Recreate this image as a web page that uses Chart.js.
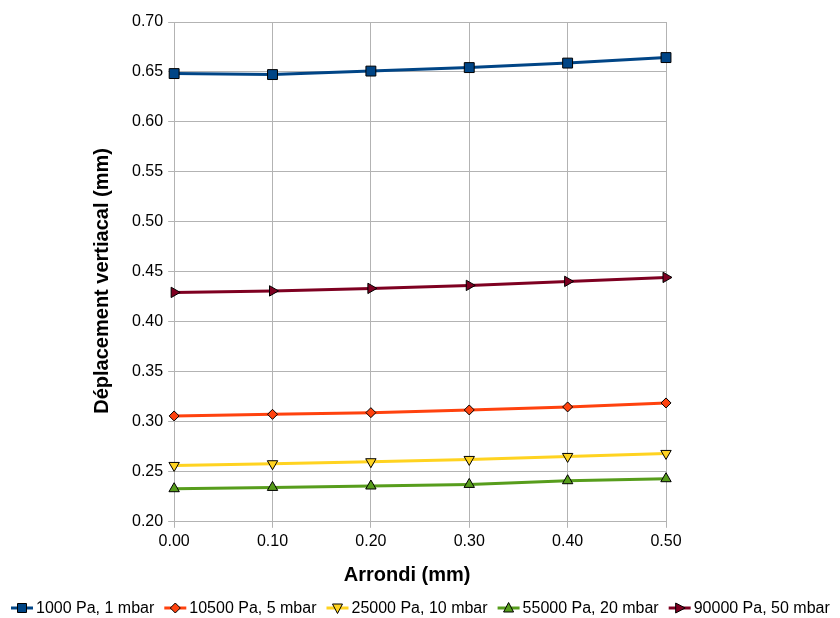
<!DOCTYPE html>
<html>
<head>
<meta charset="utf-8">
<script src="https://cdn.jsdelivr.net/npm/chart.js@4/dist/chart.umd.min.js"></script>
<style>
  body { margin: 0; background: #fff; }
  #wrap { width: 840px; height: 618px; }
</style>
</head>
<body>
<div id="wrap"><canvas id="chart"></canvas></div>
<script>
// data
const arrondi = [0.00, 0.10, 0.20, 0.30, 0.40, 0.50];
const seriesNames = ["1000 Pa, 1 mbar", "10500 Pa, 5 mbar", "25000 Pa, 10 mbar", "55000 Pa, 20 mbar", "90000 Pa, 50 mbar"];
const p1000  = [0.6484, 0.6474, 0.6509, 0.6544, 0.6589, 0.6644];
const p10500 = [0.3059, 0.3075, 0.3092, 0.3119, 0.3149, 0.3189];
const p25000 = [0.2564, 0.2581, 0.2601, 0.2624, 0.2654, 0.2684];
const p55000 = [0.2331, 0.2344, 0.2358, 0.2374, 0.2411, 0.2431];
const p90000 = [0.4295, 0.4310, 0.4335, 0.4365, 0.4405, 0.4445];
const yTicks = [0.20, 0.70, 0.05]; // min, max, step
const xTitle = "Arrondi (mm)";
const yTitle = "Déplacement vertiacal (mm)";

const colors = ["#004586", "#ff420e", "#ffd320", "#579d1c", "#7e0021"];
const styles = [
  { pointStyle: "rect", rot: 0, r: 7 },
  { pointStyle: "rectRot", rot: 0, r: 5 },
  { pointStyle: "triangle", rot: 180, r: 6 },
  { pointStyle: "triangle", rot: 0, r: 6 },
  { pointStyle: "triangle", rot: 90, r: 6 }
];
const allValues = [p1000, p10500, p25000, p55000, p90000];

const fontFamily = "'Liberation Sans', Arial, sans-serif";
const font = { family: fontFamily, size: 16 };
const gridColor = "#b3b3b3";

// legend marker: short line with the point on it
function drawIcon(g, i, x, y) {
  g.save();
  g.strokeStyle = colors[i];
  g.lineWidth = 3;
  g.beginPath(); g.moveTo(x, y); g.lineTo(x + 22, y); g.stroke();
  g.translate(x + 11, y);
  g.fillStyle = colors[i];
  g.strokeStyle = "#000";
  g.lineWidth = 1;
  const s = styles[i];
  g.beginPath();
  if (s.pointStyle === "rect") {
    g.rect(-4.5, -4.5, 9, 9);
  } else if (s.pointStyle === "rectRot") {
    g.moveTo(0, -5); g.lineTo(5, 0); g.lineTo(0, 5); g.lineTo(-5, 0); g.closePath();
  } else {
    g.rotate(s.rot * Math.PI / 180);
    g.moveTo(0, -5.5); g.lineTo(5, 4); g.lineTo(-5, 4); g.closePath();
  }
  g.fill(); g.stroke();
  g.restore();
}

// axis titles + legend, placed like the original (titles a bit off-centre)
const extras = {
  id: "extras",
  afterDraw(chart) {
    const g = chart.ctx;
    const a = chart.chartArea;
    g.save();
    g.fillStyle = "#000";
    g.textAlign = "center";
    g.textBaseline = "middle";
    g.font = "bold 20px " + fontFamily;
    g.fillText(xTitle, (a.left + a.right) / 2 - 13, a.bottom + 54);
    g.save();
    g.translate(a.left - 72, (a.top + a.bottom) / 2 + 9);
    g.rotate(-Math.PI / 2);
    g.fillText(yTitle, 0, 0);
    g.restore();

    g.textAlign = "left";
    g.font = font.size + "px " + fontFamily;
    let x = 11;
    const y = 608;
    chart.data.datasets.forEach((ds, i) => {
      drawIcon(g, i, x, y);
      g.fillText(ds.label, x + 25, y + 1);
      x += 25 + g.measureText(ds.label).width + 10;
    });
    g.restore();
  }
};

const datasets = allValues.map((vals, i) => ({
  label: seriesNames[i],
  data: vals.map((v, k) => ({ x: arrondi[k], y: v })),
  borderColor: colors[i],
  backgroundColor: colors[i],
  borderWidth: 3,
  pointStyle: styles[i].pointStyle,
  pointRotation: styles[i].rot,
  pointRadius: styles[i].r,
  pointHoverRadius: styles[i].r,
  pointBorderColor: "#000",
  pointBorderWidth: 1,
  pointBackgroundColor: colors[i],
  tension: 0,
  clip: false
}));

new Chart(document.getElementById("chart"), {
  type: "line",
  data: { datasets: datasets },
  options: {
    responsive: true,
    maintainAspectRatio: false,
    animation: false,
    layout: { padding: { left: 127, right: 174, top: 22, bottom: 63 } },
    plugins: {
      legend: { display: false },
      tooltip: { enabled: false }
    },
    scales: {
      x: {
        type: "linear",
        min: arrondi[0],
        max: arrondi[arrondi.length - 1],
        ticks: { stepSize: 0.1, font: font, color: "#000", callback: v => v.toFixed(2), padding: 4 },
        grid: { color: gridColor, tickLength: 6 },
        border: { color: gridColor }
      },
      y: {
        min: yTicks[0],
        max: yTicks[1],
        ticks: { stepSize: yTicks[2], font: font, color: "#000", callback: v => v.toFixed(2), padding: 5 },
        grid: { color: gridColor, tickLength: 6 },
        border: { color: gridColor }
      }
    }
  },
  plugins: [extras]
});
</script>
</body>
</html>
